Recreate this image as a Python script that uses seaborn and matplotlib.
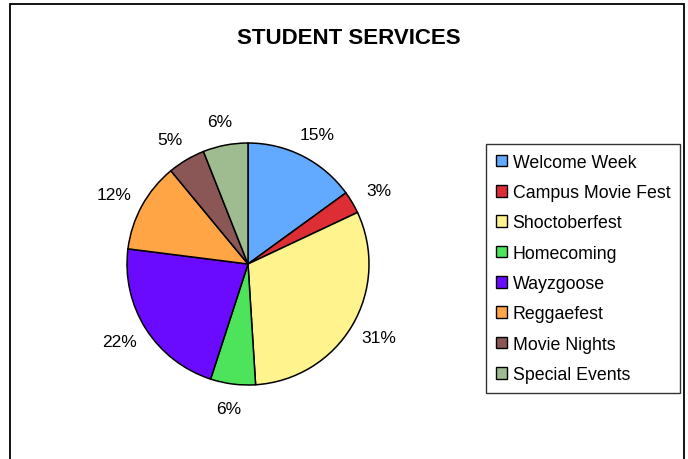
import matplotlib
matplotlib.use("Agg")
import matplotlib.pyplot as plt
import matplotlib.patches as mpatches
import seaborn as sns

# data
events = ['Welcome Week', 'Campus Movie Fest', 'Shoctoberfest', 'Homecoming',
          'Wayzgoose', 'Reggaefest', 'Movie Nights', 'Special Events']
shares = [15, 3, 31, 6, 22, 12, 5, 6]
colors = ['#62AAFF', '#DD2E35', '#FFF38D', '#4DE35A',
          '#6A0BFF', '#FFA546', '#8B5656', '#9FBC91']

sns.set_theme(style='white')
plt.rcParams['font.family'] = ['Liberation Sans', 'DejaVu Sans']
plt.rcParams['text.color'] = 'black'

W, H = 688, 460
fig = plt.figure(figsize=(W / 100, H / 100), dpi=100)

# outer frame
fig.patches.append(mpatches.Rectangle((10 / W, -0.05), 674 / W, 1.05 - 5 / H,
                                      transform=fig.transFigure, fill=False,
                                      edgecolor='black', linewidth=1.3))

fig.text(349 / W, 1 - 38 / H, 'STUDENT SERVICES', ha='center', va='center',
         fontsize=16, fontweight='bold', color='black')

ax = fig.add_axes([127 / W, 74 / H, 242 / W, 242 / H])
wedges, texts = ax.pie(shares, labels=[f'{v}%' for v in shares], colors=colors,
                       startangle=90, counterclock=False, radius=1,
                       labeldistance=1.2,
                       wedgeprops=dict(edgecolor='black', linewidth=1.1),
                       textprops=dict(fontsize=12.5, color='black'))
for t in texts:
    t.set_ha('center')
    t.set_va('center')
    x, y = t.get_position()
    # labels sit a little wider on the sides
    t.set_position((x * 1.05, y))
ax.set_xlim(-1, 1)
ax.set_ylim(-1, 1)
ax.set_aspect('equal')

handles = [mpatches.Patch(facecolor=c, edgecolor='black', linewidth=1) for c in colors]
leg = fig.legend(handles, events, loc='upper left',
                 bbox_to_anchor=(486 / W, 1 - 145 / H), borderaxespad=0,
                 fontsize=12.8, frameon=True, fancybox=False, shadow=False,
                 handlelength=0.65, handleheight=0.65, handletextpad=0.3,
                 labelspacing=0.75, borderpad=0.55)
leg.get_frame().set_edgecolor('black')
leg.get_frame().set_linewidth(1.0)
for t in leg.get_texts():
    t.set_color('black')

fig.savefig('out.png', dpi=100)
